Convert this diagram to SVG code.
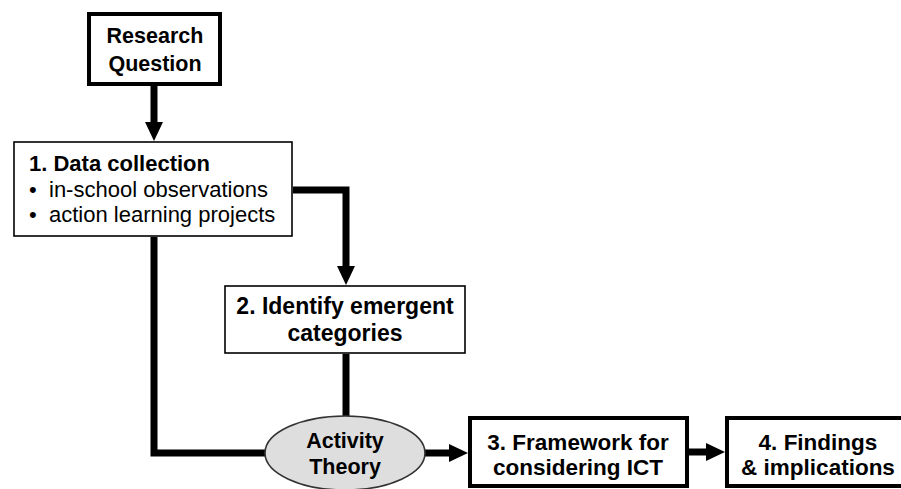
<svg xmlns="http://www.w3.org/2000/svg" width="901" height="489" viewBox="0 0 901 489">
  <style>
    .box { fill: #ffffff; stroke: #000000; }
    .thick { stroke-width: 4; }
    .thin { stroke-width: 1.6; }
    .conn { fill: none; stroke: #000000; stroke-width: 7; stroke-linejoin: miter; }
    text { font-family: "Liberation Sans", Arial, Helvetica, sans-serif; fill: #000000; }
    .b { font-weight: bold; }
    .c { text-anchor: middle; }
  </style>
  <defs>
    <marker id="arrow" markerUnits="userSpaceOnUse" markerWidth="20" markerHeight="20" viewBox="0 -10 20 20" refX="0" refY="0" orient="auto">
      <path d="M0,-9 L19,0 L0,9 Z" fill="#000000"/>
    </marker>
  </defs>

  <!-- connectors -->
  <g id="connectors">
    <path class="conn" d="M154,86 V122" marker-end="url(#arrow)"/>
    <path class="conn" d="M293,190 H346 V266" marker-end="url(#arrow)"/>
    <path class="conn" d="M154,237 V453 H266"/>
    <path class="conn" d="M346,354 V417"/>
    <path class="conn" d="M424,453 H449" marker-end="url(#arrow)"/>
    <path class="conn" d="M689,452 H706" marker-end="url(#arrow)"/>
  </g>

  <g id="research-question">
    <rect class="box thick" x="89" y="14" width="131" height="70"/>
    <text class="b c" x="155" y="43" font-size="21.5">Research</text>
    <text class="b c" x="155" y="71" font-size="21.5">Question</text>
  </g>

  <g id="data-collection">
    <rect class="box thin" x="14" y="142" width="278" height="94"/>
    <text class="b" x="29" y="171" font-size="22">1. Data collection</text>
    <text x="29" y="197" font-size="22">•</text>
    <text x="49" y="197" font-size="22">in-school observations</text>
    <text x="29" y="222" font-size="22">•</text>
    <text x="49" y="222" font-size="22">action learning projects</text>
  </g>

  <g id="emergent-categories">
    <rect class="box thin" x="225" y="286" width="240" height="67"/>
    <text class="b c" x="345" y="314" font-size="23">2. Identify emergent</text>
    <text class="b c" x="345" y="341" font-size="23">categories</text>
  </g>

  <g id="activity-theory">
    <ellipse cx="345" cy="453" rx="80" ry="37" fill="#dedede" stroke="#333333" stroke-width="1.6"/>
    <text class="b c" x="345" y="448" font-size="21.5">Activity</text>
    <text class="b c" x="345" y="474" font-size="21.5">Theory</text>
  </g>

  <g id="framework">
    <rect class="box thick" x="470" y="418" width="217" height="68"/>
    <text class="b c" x="578" y="450" font-size="22.5">3. Framework for</text>
    <text class="b c" x="578" y="475" font-size="22.5">considering ICT</text>
  </g>

  <g id="findings">
    <rect class="box thick" x="727" y="418" width="190" height="68"/>
    <text class="b c" x="818" y="450" font-size="22.5">4. Findings</text>
    <text class="b c" x="818" y="475" font-size="22.5">&amp; implications</text>
  </g>
</svg>
